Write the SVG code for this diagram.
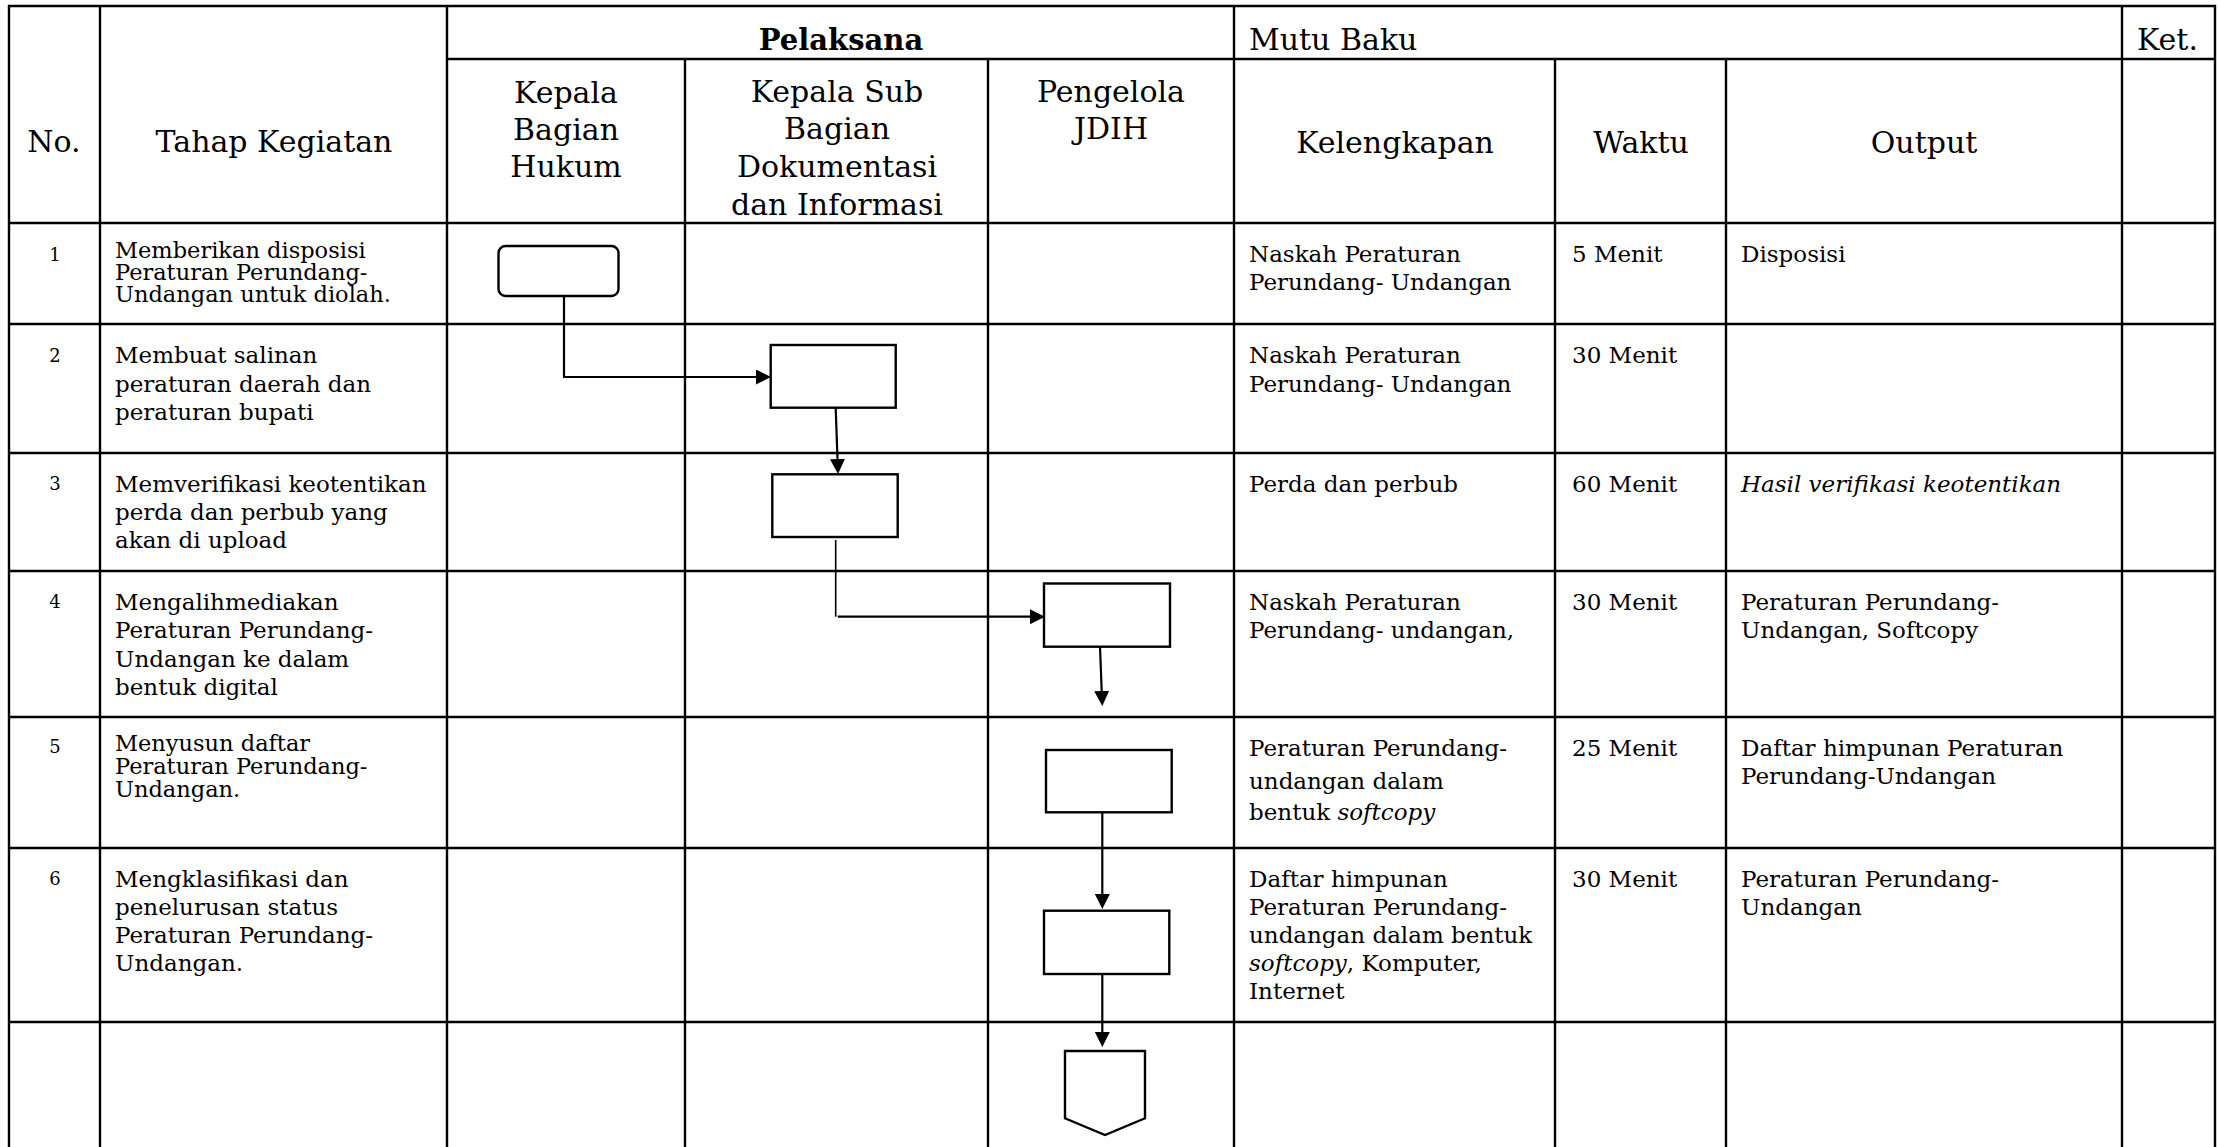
<svg xmlns="http://www.w3.org/2000/svg" width="2218" height="1147" viewBox="0 0 2218 1147">
<style>
.grid line{stroke:#000;stroke-width:2.4}
.h{font-family:"DejaVu Serif","Liberation Serif",serif;font-size:30px;fill:#000}
.hb{font-family:"DejaVu Serif","Liberation Serif",serif;font-size:29px;font-weight:bold;fill:#000}
.t{font-family:"DejaVu Serif","Liberation Serif",serif;font-size:23px;fill:#000}
.ts{font-family:"DejaVu Serif","Liberation Serif",serif;font-size:22.5px;fill:#000}
.n{font-family:"DejaVu Serif","Liberation Serif",serif;font-size:18px;fill:#000}
.c{text-anchor:middle}
.i{font-style:italic}
.box{fill:#fff;stroke:#000;stroke-width:2.4}
.con{fill:none;stroke:#000;stroke-width:2.2}
.thin{fill:none;stroke:#000;stroke-width:1.6}
</style>
<defs>
<marker id="arr" markerWidth="16" markerHeight="16" refX="0" refY="7.5" orient="auto" markerUnits="userSpaceOnUse">
<path d="M0,0 L15,7.5 L0,15 Z" fill="#000"/>
</marker>
</defs>
<rect width="2218" height="1147" fill="#fff"/>
<g id="table" class="grid">
<line x1="8" y1="6" x2="2216" y2="6"/>
<line x1="447" y1="59" x2="2216" y2="59"/>
<line x1="8" y1="223" x2="2216" y2="223"/>
<line x1="8" y1="324" x2="2216" y2="324"/>
<line x1="8" y1="453" x2="2216" y2="453"/>
<line x1="8" y1="571" x2="2216" y2="571"/>
<line x1="8" y1="717" x2="2216" y2="717"/>
<line x1="8" y1="848" x2="2216" y2="848"/>
<line x1="8" y1="1022" x2="2216" y2="1022"/>
<line x1="9" y1="5" x2="9" y2="1147"/>
<line x1="100" y1="5" x2="100" y2="1147"/>
<line x1="447" y1="5" x2="447" y2="1147"/>
<line x1="685" y1="59" x2="685" y2="1147"/>
<line x1="988" y1="59" x2="988" y2="1147"/>
<line x1="1234" y1="5" x2="1234" y2="1147"/>
<line x1="1555" y1="59" x2="1555" y2="1147"/>
<line x1="1726" y1="59" x2="1726" y2="1147"/>
<line x1="2122" y1="5" x2="2122" y2="1147"/>
<line x1="2215" y1="5" x2="2215" y2="1147"/>
</g>
<g id="header">
<text class="hb c" x="841" y="50">Pelaksana</text>
<text class="h" x="1249" y="50">Mutu Baku</text>
<text class="h" x="2137" y="50">Ket.</text>
<text class="h c" x="54" y="152">No.</text>
<text class="h c" x="274" y="152">Tahap Kegiatan</text>
<text class="h c"><tspan x="566" y="103">Kepala</tspan><tspan x="566" y="140">Bagian</tspan><tspan x="566" y="177">Hukum</tspan></text>
<text class="h c"><tspan x="837" y="102">Kepala Sub</tspan><tspan x="837" y="139">Bagian</tspan><tspan x="837" y="177">Dokumentasi</tspan><tspan x="837" y="215">dan Informasi</tspan></text>
<text class="h c"><tspan x="1111" y="102">Pengelola</tspan><tspan x="1111" y="139">JDIH</tspan></text>
<text class="h c" x="1395" y="153">Kelengkapan</text>
<text class="h c" x="1641" y="153">Waktu</text>
<text class="h c" x="1924" y="153">Output</text>
</g>
<g id="row1">
<text class="n c" x="55" y="261">1</text>
<text class="ts"><tspan x="115" y="258">Memberikan disposisi</tspan><tspan x="115" y="280">Peraturan Perundang-</tspan><tspan x="115" y="302">Undangan untuk diolah.</tspan></text>
<text class="t"><tspan x="1249" y="262">Naskah Peraturan</tspan><tspan x="1249" y="290">Perundang- Undangan</tspan></text>
<text class="t" x="1572" y="262">5 Menit</text>
<text class="t" x="1741" y="262">Disposisi</text>
</g>
<g id="row2">
<text class="n c" x="55" y="362">2</text>
<text class="t"><tspan x="115" y="363">Membuat salinan</tspan><tspan x="115" y="392">peraturan daerah dan</tspan><tspan x="115" y="420">peraturan bupati</tspan></text>
<text class="t"><tspan x="1249" y="363">Naskah Peraturan</tspan><tspan x="1249" y="392">Perundang- Undangan</tspan></text>
<text class="t" x="1572" y="363">30 Menit</text>
</g>
<g id="row3">
<text class="n c" x="55" y="490">3</text>
<text class="t"><tspan x="115" y="492">Memverifikasi keotentikan</tspan><tspan x="115" y="520">perda dan perbub yang</tspan><tspan x="115" y="548">akan di upload</tspan></text>
<text class="t" x="1249" y="492">Perda dan perbub</text>
<text class="t" x="1572" y="492">60 Menit</text>
<text class="t i" x="1741" y="492">Hasil verifikasi keotentikan</text>
</g>
<g id="row4">
<text class="n c" x="55" y="608">4</text>
<text class="t"><tspan x="115" y="610">Mengalihmediakan</tspan><tspan x="115" y="638">Peraturan Perundang-</tspan><tspan x="115" y="667">Undangan ke dalam</tspan><tspan x="115" y="695">bentuk digital</tspan></text>
<text class="t"><tspan x="1249" y="610">Naskah Peraturan</tspan><tspan x="1249" y="638">Perundang- undangan,</tspan></text>
<text class="t" x="1572" y="610">30 Menit</text>
<text class="t"><tspan x="1741" y="610">Peraturan Perundang-</tspan><tspan x="1741" y="638">Undangan, Softcopy</tspan></text>
</g>
<g id="row5">
<text class="n c" x="55" y="753">5</text>
<text class="ts"><tspan x="115" y="751">Menyusun daftar</tspan><tspan x="115" y="774">Peraturan Perundang-</tspan><tspan x="115" y="797">Undangan.</tspan></text>
<text class="t"><tspan x="1249" y="756">Peraturan Perundang-</tspan><tspan x="1249" y="789">undangan dalam</tspan><tspan x="1249" y="820">bentuk <tspan class="i">softcopy</tspan></tspan></text>
<text class="t" x="1572" y="756">25 Menit</text>
<text class="t"><tspan x="1741" y="756">Daftar himpunan Peraturan</tspan><tspan x="1741" y="784">Perundang-Undangan</tspan></text>
</g>
<g id="row6">
<text class="n c" x="55" y="885">6</text>
<text class="t"><tspan x="115" y="887">Mengklasifikasi dan</tspan><tspan x="115" y="915">penelurusan status</tspan><tspan x="115" y="943">Peraturan Perundang-</tspan><tspan x="115" y="971">Undangan.</tspan></text>
<text class="t"><tspan x="1249" y="887">Daftar himpunan</tspan><tspan x="1249" y="915">Peraturan Perundang-</tspan><tspan x="1249" y="943">undangan dalam bentuk</tspan><tspan x="1249" y="971"><tspan class="i">softcopy</tspan>, Komputer,</tspan><tspan x="1249" y="999">Internet</tspan></text>
<text class="t" x="1572" y="887">30 Menit</text>
<text class="t"><tspan x="1741" y="887">Peraturan Perundang-</tspan><tspan x="1741" y="915">Undangan</tspan></text>
</g>
<g id="connectors">
<path class="con" d="M564,296 L564,377 L756,377" marker-end="url(#arr)"/>
<path class="con" d="M835.7,408 L837.5,459" marker-end="url(#arr)"/>
<path class="thin" d="M835.7,540 L835.7,616.7"/>
<path class="con" d="M837.7,616.7 L1030,616.7" marker-end="url(#arr)"/>
<path class="con" d="M1100,647 L1101.7,691" marker-end="url(#arr)"/>
<path class="con" d="M1102.3,812 L1102.3,894" marker-end="url(#arr)"/>
<path class="con" d="M1102.3,974 L1102.3,1032" marker-end="url(#arr)"/>
</g>
<g id="n1"><rect class="box" x="498.5" y="246" width="120" height="50" rx="7"/></g>
<g id="n2"><rect class="box" x="770.7" y="345" width="125" height="62.7"/></g>
<g id="n3"><rect class="box" x="772.3" y="474.3" width="125.4" height="62.7"/></g>
<g id="n4"><rect class="box" x="1044" y="583.5" width="126" height="63.2"/></g>
<g id="n5"><rect class="box" x="1046" y="750" width="125.7" height="62.3"/></g>
<g id="n6"><rect class="box" x="1044" y="910.7" width="125.3" height="63.3"/></g>
<g id="n7"><path class="box" d="M1065,1051 L1145,1051 L1145,1118.3 L1105,1135 L1065,1118.3 Z"/></g>
</svg>
